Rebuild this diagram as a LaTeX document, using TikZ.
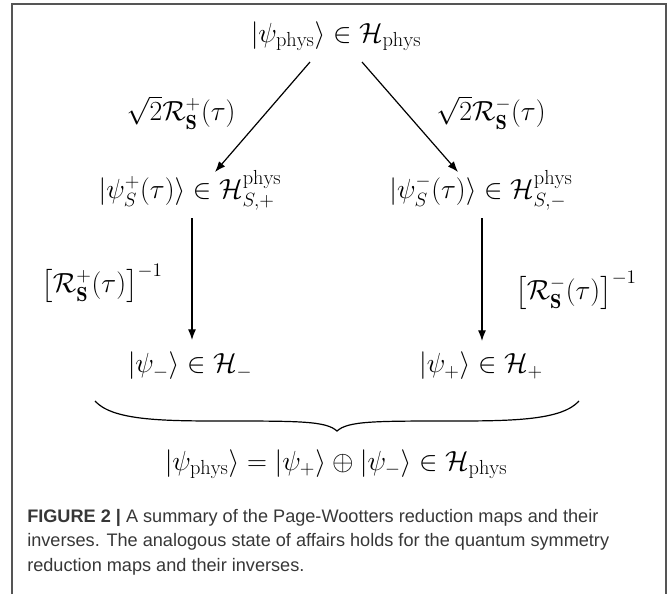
\documentclass[tikz,border=0pt]{standalone}
\usepackage{amsmath}
\usepackage{fontspec}
\setsansfont{Liberation Sans}
\usetikzlibrary{arrows.meta, calc}
\definecolor{framegray}{RGB}{85, 85, 85}
\definecolor{captiongray}{RGB}{55, 55, 55}

\begin{document}
\begin{tikzpicture}[x=0.75pt, y=-0.75pt,
        state/.style={font=\fontsize{21.8}{26}\selectfont, inner sep=2pt},
        maplabel/.style={font=\fontsize{21.8}{26}\selectfont, inner sep=2pt},
        arr/.style={-{Latex[length=8pt, width=6pt]}, line width=0.9pt, black},
        frame/.style={line width=1.4pt, framegray},
        caption/.style={font=\sffamily\fontsize{13.6}{18.4}\selectfont, text=captiongray, align=left, anchor=north west, inner sep=0pt}
      ]
        \useasboundingbox (0,0) rectangle (672,594);
        \draw[frame] (12,594) |- (666,4) -- (666,594);

        \node[state] (top) at (336,36) {$|\psi_{\mathrm{phys}}\rangle \in \mathcal{H}_{\mathrm{phys}}$};
        \node[state] (midL) at (190,190) {$|\psi_S^+(\tau)\rangle \in \mathcal{H}_{S,+}^{\mathrm{phys}}$};
        \node[state] (midR) at (481,190) {$|\psi_S^-(\tau)\rangle \in \mathcal{H}_{S,-}^{\mathrm{phys}}$};
        \node[state] (botL) at (190,366) {$|\psi_-\rangle \in \mathcal{H}_-$};
        \node[state] (botR) at (481,366) {$|\psi_+\rangle \in \mathcal{H}_+$};
        \node[state] (total) at (336,464) {$|\psi_{\mathrm{phys}}\rangle = |\psi_+\rangle \oplus |\psi_-\rangle \in \mathcal{H}_{\mathrm{phys}}$};

        \node[maplabel] (mapA) at (181,113) {$\sqrt{2}\mathcal{R}_{\mathbf{S}}^+(\tau)$};
        \node[maplabel] (mapB) at (491,113) {$\sqrt{2}\mathcal{R}_{\mathbf{S}}^-(\tau)$};
        \node[maplabel] (invA) at (102,283) {$\big[\mathcal{R}_{\mathbf{S}}^+(\tau)\big]^{-1}$};
        \node[maplabel] (invB) at (576,290) {$\big[\mathcal{R}_{\mathbf{S}}^-(\tau)\big]^{-1}$};

        \draw[arr] ($(top)+(-26,26)$) -- ($(midL)+(25,-18)$);
        \draw[arr] ($(top)+(26,26)$) -- ($(midR)+(-23,-18)$);
        \draw[arr] ($(midL)+(2,28)$) -- ($(botL)+(2,-26)$);
        \draw[arr] ($(midR)+(1,28)$) -- ($(botR)+(1,-25)$);

        \coordinate (braceL) at (95,401);
        \coordinate (braceR) at (579,401);
        \coordinate (braceTip) at (337,431);
        \draw[line width=0.9pt] (braceL) .. controls (112,420) and (160,421) .. (220,421)
          .. controls (300,421) and (326,421) .. (braceTip)
          .. controls (348,421) and (374,421) .. (454,421)
          .. controls (514,421) and (562,420) .. (braceR);

        \node[caption] (cap) at (27,509) {\textbf{FIGURE 2 |} A summary of the Page-Wootters reduction maps and their\\
          inverses. The analogous state of affairs holds for the quantum symmetry\\
          reduction maps and their inverses.};
      \end{tikzpicture}
\end{document}
